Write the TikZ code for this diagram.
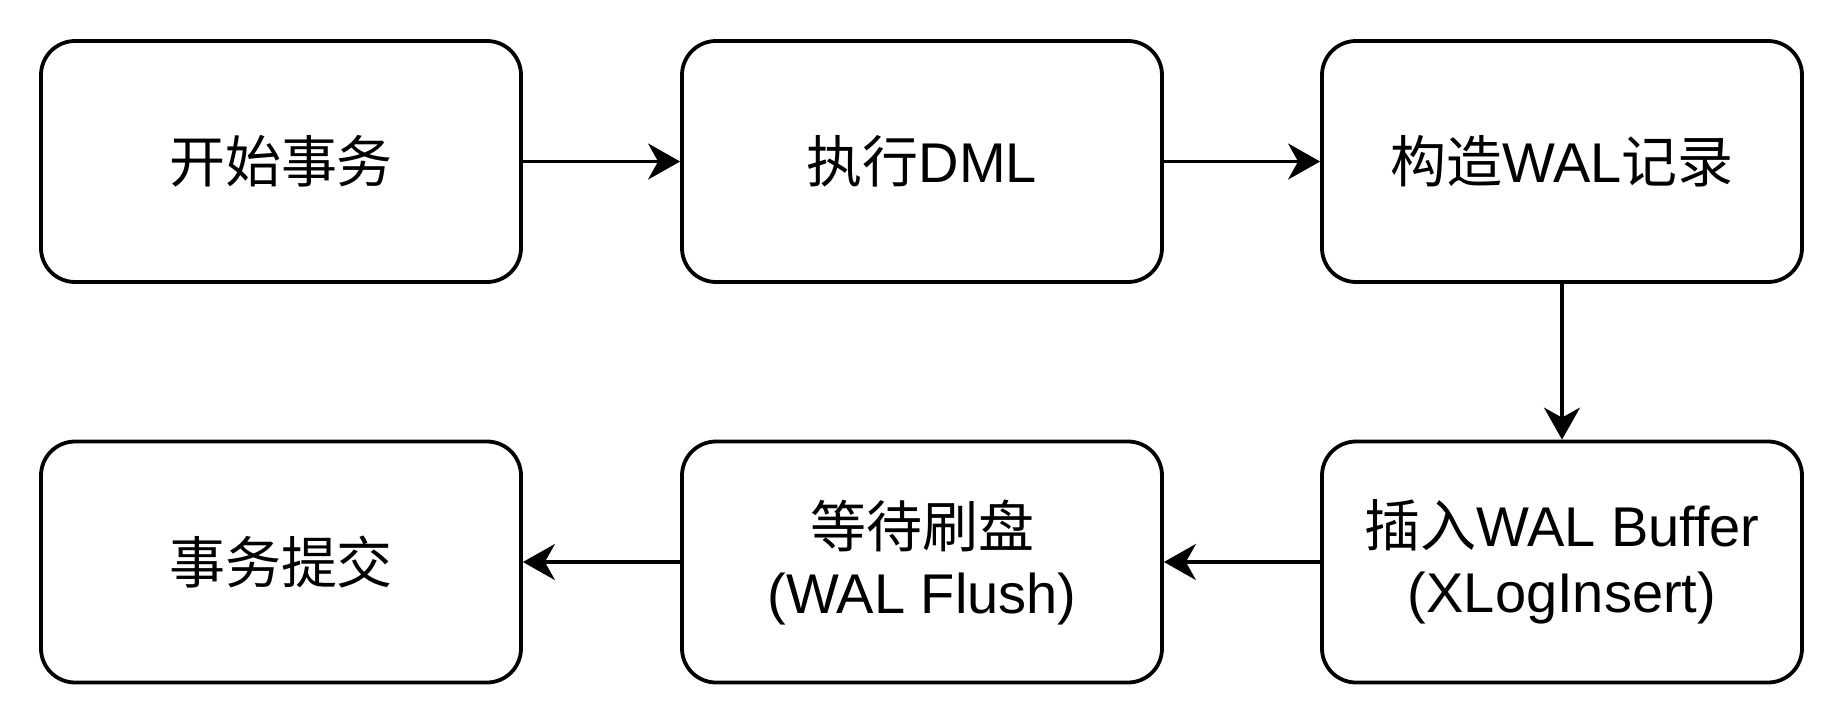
\documentclass[tikz,border=0pt]{standalone}
\usepackage{fontspec}
\setmainfont{Liberation Sans}
\newfontfamily\cjk{Noto Sans CJK SC}
\usetikzlibrary{arrows.meta}
\begin{document}
\begin{tikzpicture}[x=0.5pt,y=-0.5pt,
  box/.style={draw=black, line width=1.9pt, rounded corners=17pt,
    minimum width=240pt, minimum height=120.5pt, align=center,
    font=\fontsize{28}{33}\selectfont, inner sep=0pt},
  conn/.style={line width=1.6pt, -{Stealth[length=16pt,width=18pt,inset=5pt]}}]
\useasboundingbox (0,0) rectangle (1844,724);
\node[box] (a) at (281,161.5) {{\cjk 开始事务}};
\node[box] (b) at (922,161.5) {{\cjk 执行}DML};
\node[box] (c) at (1562,161.5) {{\cjk 构造}WAL{\cjk 记录}};
\node[box] (d) at (1562,562) {{\cjk 插入}WAL Buffer\\(XLogInsert)};
\node[box] (e) at (922,562) {{\cjk 等待刷盘}\\(WAL Flush)};
\node[box] (f) at (281,562) {{\cjk 事务提交}};
\draw[conn] (a) -- (b);
\draw[conn] (b) -- (c);
\draw[conn] (c) -- (d);
\draw[conn] (d) -- (e);
\draw[conn] (e) -- (f);
\end{tikzpicture}
\end{document}
